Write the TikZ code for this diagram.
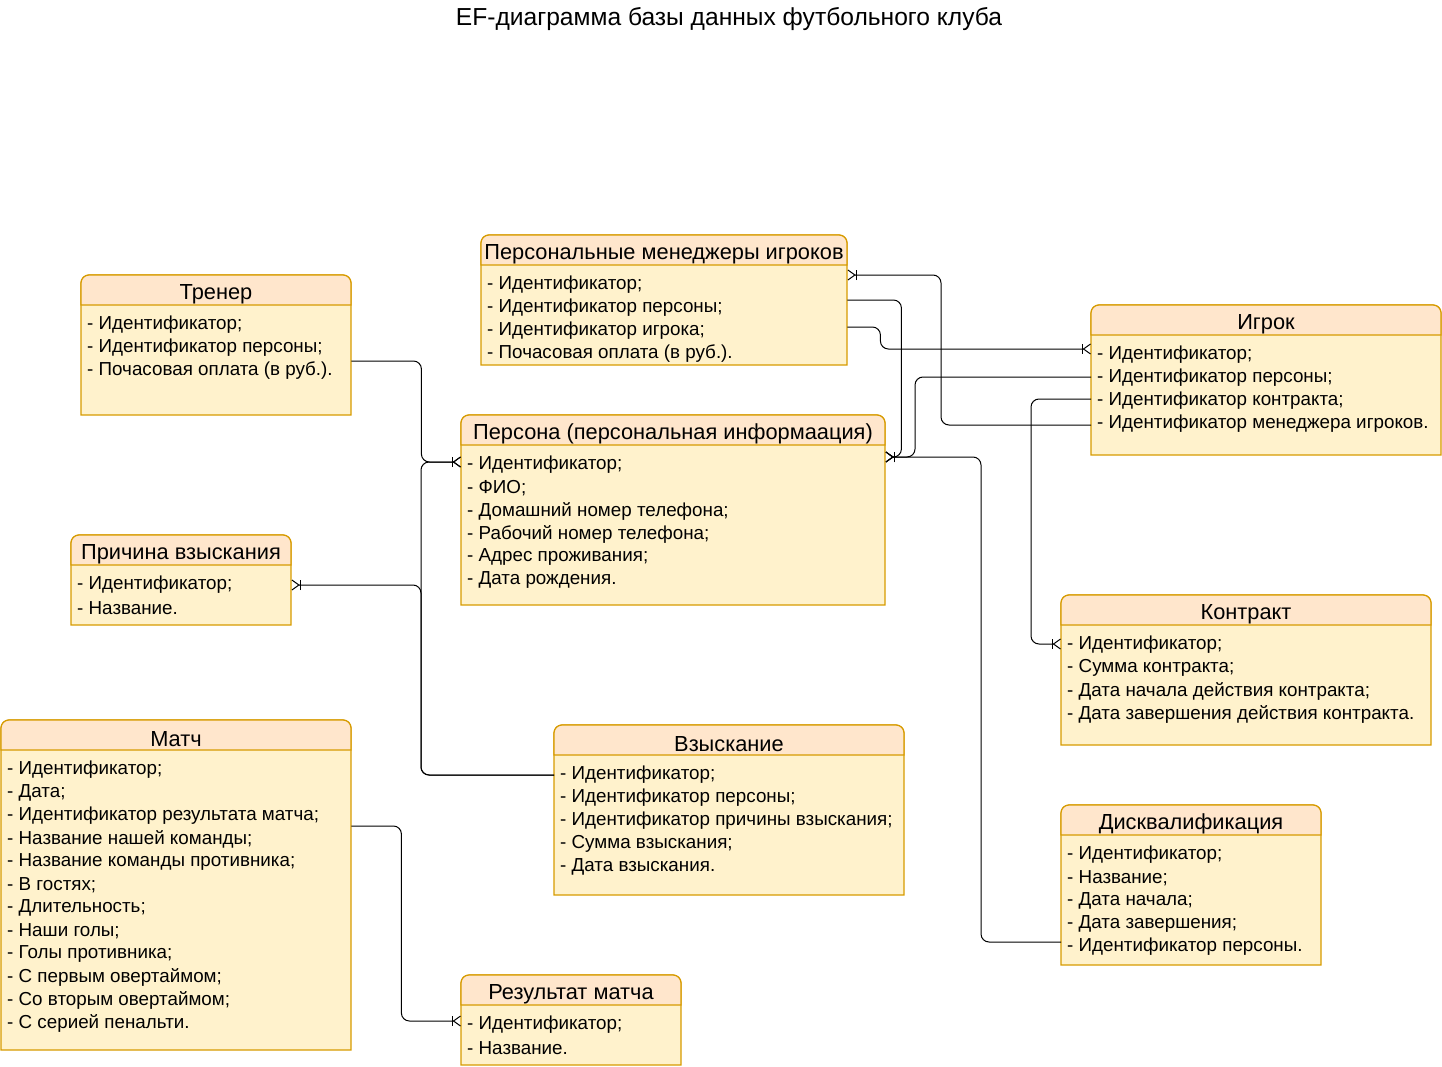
\documentclass[tikz,border=0pt]{standalone}
\usepackage{fontspec}
\setmainfont{Liberation Sans}
\usetikzlibrary{arrows.meta}
\definecolor{hd}{HTML}{FFE6CC}
\definecolor{bd}{HTML}{FFF2CC}
\definecolor{st}{HTML}{D79B00}
\tikzset{
 rowtxt/.style={anchor=west, inner sep=0pt, font=\fontsize{18.8}{22}\selectfont},
 hdtxt/.style={inner sep=0pt, font=\fontsize{21.8}{25}\selectfont},
 conn/.style={draw=black, line width=1pt, rounded corners=8pt},
 crow/.style={-{Bar[width=10pt,line width=1pt,sep=0pt]Straight Barb[reversed,length=7pt,width=10pt,line width=1pt]}},
 boxline/.style={draw=st, line width=1.2pt},
}
\newcommand\ertab[7]{%
  \path[boxline, fill=bd] (#2,#3+#5) [rounded corners=8pt]-- (#2,#3) -- (#2+#4,#3) [sharp corners]-- (#2+#4,#3+#5) -- cycle;
  \path[boxline, fill=hd] (#2,#3+30) [rounded corners=8pt]-- (#2,#3) -- (#2+#4,#3) [sharp corners]-- (#2+#4,#3+30) -- cycle;
  \node[inner sep=0pt, minimum width=#4pt, minimum height=#5pt, anchor=north west] (#1) at (#2,#3) {};
  \node[hdtxt] (#1-h) at (#2+#4/2,#3+19) {#6};
  \foreach \t [count=\i] in {#7} {\node[rowtxt] (#1-\i) at (#2+6,#3+50+23*\i-23) {\t};}
}
\begin{document}
\begin{tikzpicture}[x=1pt,y=-1pt]
\useasboundingbox (0,0) rectangle (1442,1067);
\node[font=\fontsize{24.6}{28}\selectfont, inner sep=0pt] (title) at (729,19) {EF-диаграмма базы данных футбольного клуба};

\ertab{tr}{81}{275}{270}{140}{Тренер}{{- Идентификатор;},{- Идентификатор персоны;},{- Почасовая оплата (в руб.).}}
\ertab{mg}{481}{235}{366}{130}{Персональные менеджеры игроков}{{- Идентификатор;},{- Идентификатор персоны;},{- Идентификатор игрока;},{- Почасовая оплата (в руб.).}}
\ertab{ig}{1091}{305}{350}{150}{Игрок}{{- Идентификатор;},{- Идентификатор персоны;},{- Идентификатор контракта;},{- Идентификатор менеджера игроков.}}
\ertab{pe}{461}{415}{424}{190}{Персона (персональная информаация)}{{- Идентификатор;},{- ФИО;},{- Домашний номер телефона;},{- Рабочий номер телефона;},{- Адрес проживания;},{- Дата рождения.}}
\ertab{pr}{71}{535}{220}{90}{Причина взыскания}{{- Идентификатор;},{- Название.}}
\ertab{ko}{1061}{595}{370}{150}{Контракт}{{- Идентификатор;},{- Сумма контракта;},{- Дата начала действия контракта;},{- Дата завершения действия контракта.}}
\ertab{ma}{1}{720}{350}{330}{Матч}{{- Идентификатор;},{- Дата;},{- Идентификатор результата матча;},{- Название нашей команды;},{- Название команды противника;},{- В гостях;},{- Длительность;},{- Наши голы;},{- Голы противника;},{- С первым овертаймом;},{- Со вторым овертаймом;},{- С серией пенальти.}}
\ertab{vz}{554}{725}{350}{170}{Взыскание}{{- Идентификатор;},{- Идентификатор персоны;},{- Идентификатор причины взыскания;},{- Сумма взыскания;},{- Дата взыскания.}}
\ertab{di}{1061}{805}{260}{160}{Дисквалификация}{{- Идентификатор;},{- Название;},{- Дата начала;},{- Дата завершения;},{- Идентификатор персоны.}}
\ertab{rm}{461}{975}{220}{90}{Результат матча}{{- Идентификатор;},{- Название.}}

% connectors
\draw[conn,crow] ([yshift=-86pt]tr.north east) -- ++(70,0) |- ([yshift=-47pt]pe.north west);
\draw[conn,crow] ([yshift=-50pt]vz.north west) -- ++(-133,0) |- ([yshift=-47pt]pe.north west);
\draw[conn,crow] ([yshift=-50pt]vz.north west) -- ++(-133,0) |- ([yshift=-50pt]pr.north east);
\draw[conn,crow] ([yshift=-106pt]ma.north east) -- ++(50,0) |- ([yshift=-46pt]rm.north west);
\draw[conn,crow] ([yshift=-137pt]di.north west) -- ++(-80,0) |- ([yshift=-42pt]pe.north east);
\draw[conn,crow] ([yshift=-65pt]mg.north east) -- ++(54,0) |- ([yshift=-42pt]pe.north east);
\draw[conn,crow] ([yshift=-92pt]mg.north east) -- ++(33,0) |- ([yshift=-44pt]ig.north west);
\draw[conn,crow] ([yshift=-72pt]ig.north west) -- ++(-176,0) |- ([yshift=-42pt]pe.north east);
\draw[conn,crow] ([yshift=-94pt]ig.north west) -- ++(-60,0) |- ([yshift=-49pt]ko.north west);
\draw[conn,crow] ([yshift=-120pt]ig.north west) -- ++(-150,0) |- ([yshift=-40pt]mg.north east);
\end{tikzpicture}
\end{document}
